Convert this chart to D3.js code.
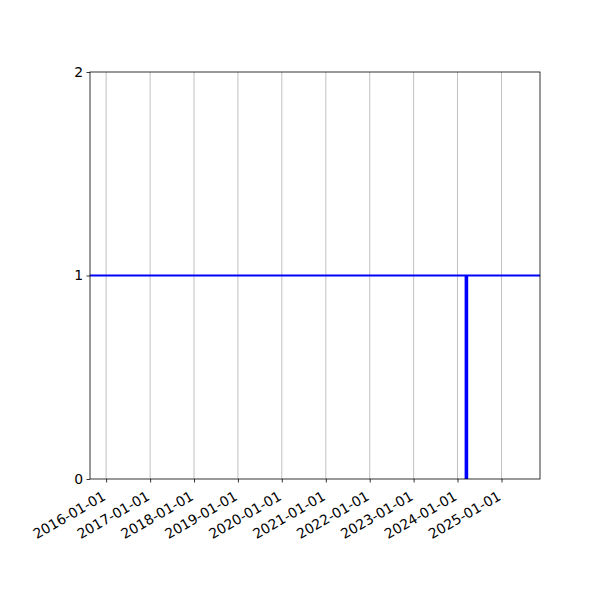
<!DOCTYPE html>
<html>
<head>
<meta charset="utf-8">
<script src="https://cdn.jsdelivr.net/npm/d3@7"></script>
<style>
  body { margin: 0; background: #fff; }
  text { font-family: "DejaVu Sans", sans-serif; font-size: 13.9px; fill: #000; }
</style>
</head>
<body>
<svg id="chart" width="600" height="600"></svg>
<script>
// tick dates along the x axis
var tickDates = ["2016-01-01", "2017-01-01", "2018-01-01", "2019-01-01", "2020-01-01",
                 "2021-01-01", "2022-01-01", "2023-01-01", "2024-01-01", "2025-01-01"];
var yTicks = [0, 1, 2];

// the constant level drawn across the whole plot
var levelValue = 1;

// single event bar
var barDates = ["2024-03-15"];
var barValues = [1];

var xStart = "2015-08-20", xEnd = "2025-11-17";

var margin = { top: 72, right: 60, bottom: 121, left: 90 },
    width = 600 - margin.left - margin.right,
    height = 600 - margin.top - margin.bottom;

var parse = d3.timeParse("%Y-%m-%d");

var svg = d3.select("#chart");
var g = svg.append("g")
    .attr("transform", "translate(" + margin.left + "," + margin.top + ")");

var x = d3.scaleTime()
    .domain([parse(xStart), parse(xEnd)])
    .range([0, width]);
var y = d3.scaleLinear().domain([0, 2]).range([height, 0]);

g.append("clipPath").attr("id", "clip")
    .append("rect").attr("width", width).attr("height", height);

// vertical grid lines
g.selectAll(".grid")
    .data(tickDates)
    .enter().append("line")
    .attr("class", "grid")
    .attr("x1", d => x(parse(d)))
    .attr("x2", d => x(parse(d)))
    .attr("y1", 0)
    .attr("y2", height)
    .style("stroke", "#b0b0b0")
    .style("stroke-width", 0.8);

var plot = g.append("g").attr("clip-path", "url(#clip)");

// horizontal level line
plot.append("line")
    .attr("x1", 0)
    .attr("x2", width)
    .attr("y1", y(levelValue))
    .attr("y2", y(levelValue))
    .style("stroke", "#0000ff")
    .style("stroke-width", 2);

// bar
plot.selectAll(".bar")
    .data(barDates.map((d, i) => ({ date: parse(d), value: barValues[i] })))
    .enter().append("rect")
    .attr("class", "bar")
    .attr("x", d => x(d.date) - 1.8)
    .attr("width", 3.6)
    .attr("y", d => y(d.value))
    .attr("height", d => y(0) - y(d.value))
    .style("fill", "#0000ff");

// x axis
var xAxis = g.append("g")
    .attr("transform", "translate(0," + height + ")")
    .call(d3.axisBottom(x)
        .tickValues(tickDates.map(parse))
        .tickSize(3.5)
        .tickFormat(d3.timeFormat("%Y-%m-%d")));
xAxis.select(".domain").remove();
xAxis.selectAll(".tick line").style("stroke", "#000").style("stroke-width", 0.8);
xAxis.selectAll(".tick text")
    .attr("y", null).attr("dy", null)
    .attr("text-anchor", "end")
    .attr("transform", "translate(0,20) rotate(-30)");

// y axis
var yAxis = g.append("g")
    .call(d3.axisLeft(y).tickValues(yTicks).tickSize(3.5).tickPadding(3.5).tickFormat(d3.format("d")));
yAxis.select(".domain").remove();
yAxis.selectAll(".tick line").style("stroke", "#000").style("stroke-width", 0.8);

// frame
g.append("rect")
    .attr("width", width)
    .attr("height", height)
    .style("fill", "none")
    .style("stroke", "#000")
    .style("stroke-width", 0.8);

svg.selectAll("text").style("font-family", "'DejaVu Sans', sans-serif").style("font-size", "13.9px");
</script>
</body>
</html>
